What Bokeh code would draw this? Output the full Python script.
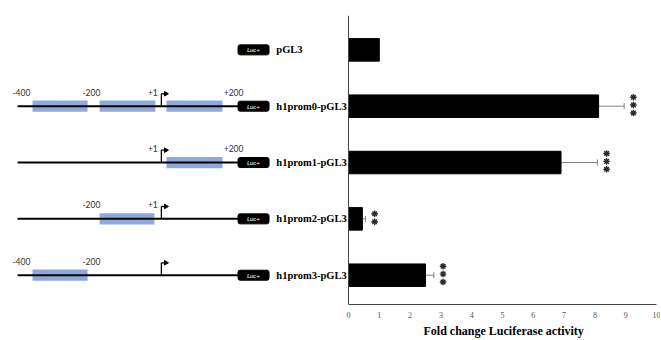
import numpy as np
from bokeh.plotting import figure
from bokeh.models import Range1d, FixedTicker, Span, ColumnDataSource, Whisker, TeeHead, Title
from bokeh.core.properties import value
from bokeh.transform import dodge
from bokeh.embed import file_html
from bokeh.resources import INLINE

# ---------------- data ----------------
constructs = ["pGL3", "h1prom0-pGL3", "h1prom1-pGL3", "h1prom2-pGL3", "h1prom3-pGL3"]
fold_change = [1.0, 8.12, 6.9, 0.45, 2.5]
fold_err = [0.0, 0.83, 1.18, 0.10, 0.27]
significance = ["", "***", "***", "**", "***"]
x_ticks = [0, 1, 2, 3, 4, 5, 6, 7, 8, 9, 10]

# promoter fragments (bp relative to the transcription start site)
has_promoter = [False, True, True, True, True]
fragments = [
    [],
    [(-400, -226), (-188, -12), (23, 200)],
    [(23, 200)],
    [(-188, -15)],
    [(-400, -226)],
]
site_labels = [
    [],
    [("-400", -435), ("-200", -214), ("+1", -20), ("+200", 235)],
    [("+1", -20), ("+200", 235)],
    [("-200", -214), ("+1", -20)],
    [("-400", -435), ("-200", -214)],
]
x_axis_title = "Fold change Luciferase activity"

# ---------------- layout constants ----------------
W, H = 660, 339
RIGHT_PAD = 4
FRAME_W = W - RIGHT_PAD
ZERO_PX = 348
x_start = -10.0 * ZERO_PX / (FRAME_W - ZERO_PX)
BP_PER_PX = 600.0 / 190.0
bp_start = -400 - 32 * BP_PER_PX
bp_end = bp_start + FRAME_W * BP_PER_PX

LINE_START, LINE_END = -447, 250
LUC_BP = 298
NAME_BP = 370
TSS_BP = 7
ARROW_H = 0.22
LABEL_UP = 0.25
BOX_H = 0.2
STAR_STEP = 0.14
TITLE_OFFSET = 423

rows = list(range(len(constructs)))

p = figure(width=W, height=H, output_backend="svg", toolbar_location=None,
           x_range=Range1d(x_start, 10), y_range=Range1d(4.52, -0.61),
           y_axis_location=None, min_border_left=0, min_border_right=RIGHT_PAD,
           min_border_top=15, min_border_bottom=0)
p.extra_x_ranges = {"bp": Range1d(bp_start, bp_end)}
p.grid.visible = False
p.outline_line_color = None
p.background_fill_color = "white"

# ---------------- construct diagram ----------------
line_rows = [r for r in rows if has_promoter[r]]
box_left, box_right, box_row = [], [], []
for r in rows:
    for a, b in fragments[r]:
        box_left.append(a); box_right.append(b); box_row.append(r)
p.quad(left=box_left, right=box_right,
       top=[r - BOX_H / 2 for r in box_row], bottom=[r + BOX_H / 2 for r in box_row],
       fill_color="#8EA9DB", line_color=None, x_range_name="bp")
p.segment(x0=[LINE_START] * len(line_rows), x1=[LINE_END] * len(line_rows),
          y0=line_rows, y1=line_rows, line_color="black", line_width=2, x_range_name="bp")
# TSS arrows
xs, ys = [], []
for r in line_rows:
    xs.append([TSS_BP, TSS_BP, TSS_BP + 12])
    ys.append([r, r - ARROW_H, r - ARROW_H])
p.multi_line(xs=xs, ys=ys, line_color="black", line_width=1.3, x_range_name="bp")
p.scatter(x=[TSS_BP + 14] * len(line_rows), y=[r - ARROW_H for r in line_rows],
          marker="triangle", angle=-np.pi / 2, size=4.5, fill_color="black",
          line_color="black", x_range_name="bp")
# site labels
lt, lx, ly = [], [], []
for r in rows:
    for t, bp in site_labels[r]:
        lt.append(t); lx.append(bp); ly.append(r - LABEL_UP)
p.text(x=lx, y=ly, text=lt, text_align="center", text_baseline="middle",
       text_font=value("Lato"), text_font_size="8.5px", text_color="#333333",
       x_range_name="bp")
# Luc+ boxes
p.rect(x=[LUC_BP] * len(rows), y=rows, width=31, height=10,
       width_units="screen", height_units="screen", fill_color="black",
       line_color="black", border_radius=2, x_range_name="bp")
p.text(x=[LUC_BP] * len(rows), y=rows, text=["Luc+"] * len(rows),
       text_align="center", text_baseline="middle", text_font=value("Lato"),
       text_font_style="italic", text_font_size="6.5px", text_color="white",
       x_range_name="bp")
# construct names
p.text(x=[NAME_BP] * len(rows), y=rows, text=constructs, text_align="left",
       text_baseline="middle", text_font=value("Liberation Serif"),
       text_font_style="bold", text_font_size="10.5px", text_color="black",
       x_range_name="bp")

# ---------------- bar chart ----------------
p.hbar(y=rows, left=0, right=fold_change, height=0.4, fill_color="black",
       line_color="black")

err_rows = [r for r in rows if fold_err[r] > 0]
src = ColumnDataSource(dict(
    y=err_rows,
    lower=[fold_change[r] for r in err_rows],
    upper=[fold_change[r] + fold_err[r] for r in err_rows],
))
p.add_layout(Whisker(base="y", lower="lower", upper="upper", dimension="width",
                     source=src, line_color="#7f7f7f", line_width=1,
                     upper_head=TeeHead(size=6, line_color="#7f7f7f", line_width=1),
                     lower_head=None))

# significance asterisks, stacked vertically right of each error bar
sx, sy = [], []
for r in rows:
    n = len(significance[r])
    for k in range(n):
        sx.append(fold_change[r] + fold_err[r])
        sy.append(r + (k - (n - 1) / 2.0) * STAR_STEP - 0.02)
star_src = ColumnDataSource(dict(x=sx, y=sy))
p.scatter(x=dodge("x", 0.3), y="y", source=star_src, marker="asterisk", size=6.5,
          line_width=1.4, line_color="#2a2a2a")

p.add_layout(Span(location=0, dimension="height", line_color="#444444", line_width=1))

ax = p.xaxis[0]
ax.bounds = (0, 10)
ax.ticker = FixedTicker(ticks=x_ticks)
ax.axis_line_color = "#444444"
ax.major_tick_line_color = None
ax.minor_tick_line_color = None
ax.major_tick_out = 0
ax.major_label_standoff = 7
ax.major_label_text_font = "Liberation Serif"
ax.major_label_text_font_size = "8px"
ax.major_label_text_color = "#555555"

# axis title placed under the bounded bar axis (0..10)
p.add_layout(Title(text=x_axis_title, align="left", offset=TITLE_OFFSET, standoff=3,
                   text_font="Liberation Serif", text_font_style="bold",
                   text_font_size="12px", text_color="black"), "below")

open("out.html", "w").write(file_html(p, INLINE))
